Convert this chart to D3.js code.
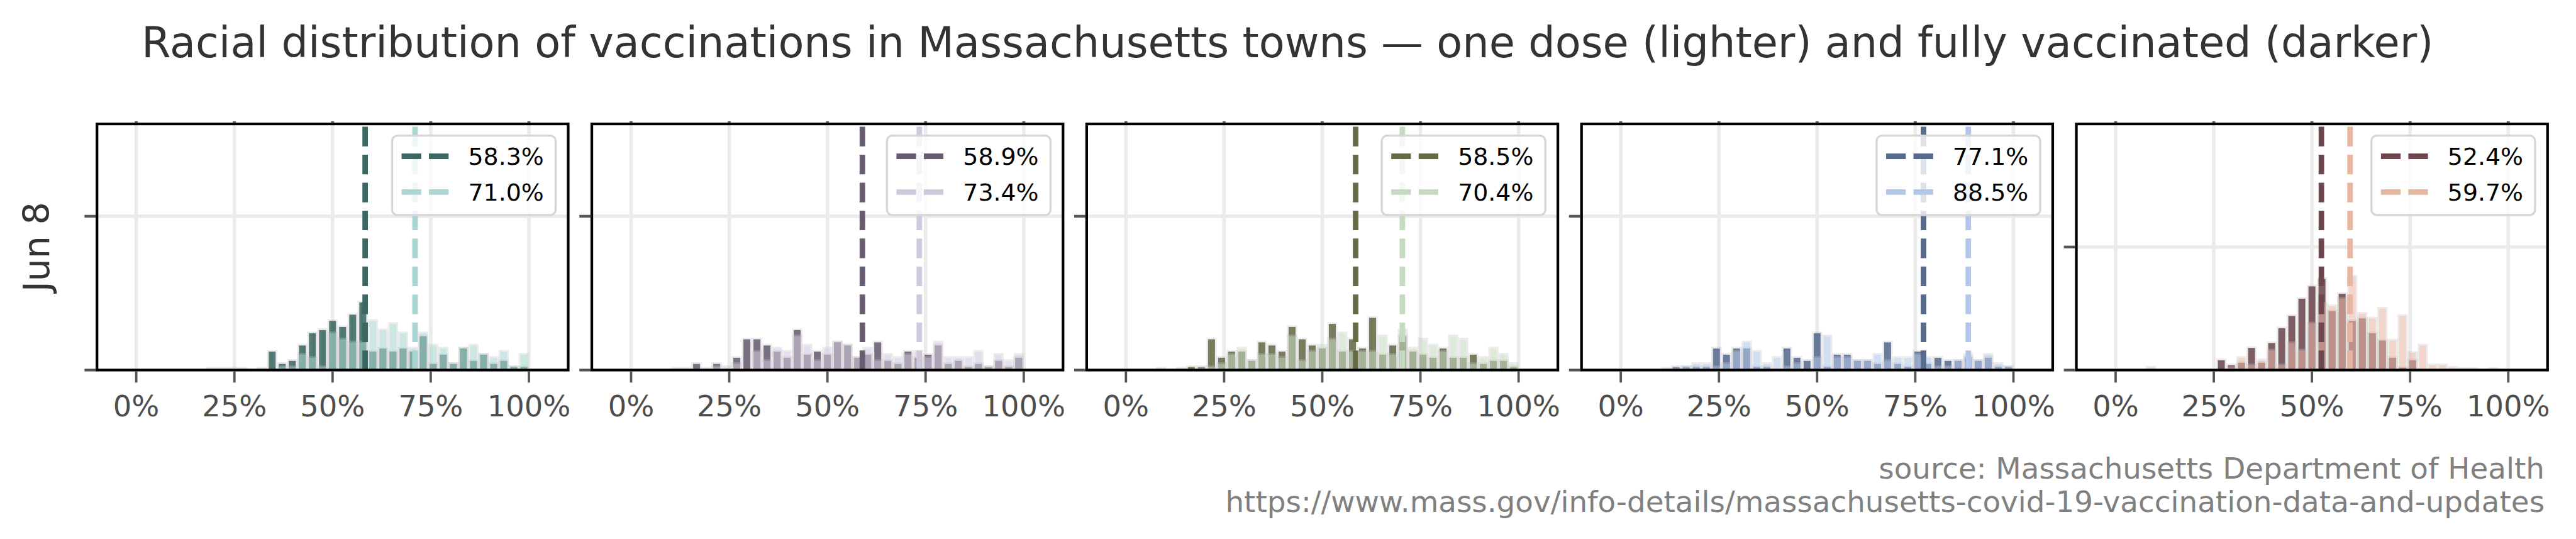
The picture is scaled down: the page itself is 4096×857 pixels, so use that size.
<!DOCTYPE html>
<html><head><meta charset="utf-8">
<script src="https://cdn.jsdelivr.net/npm/d3@7"></script>
<style>html,body{margin:0;padding:0;background:#fff;overflow:hidden} svg{display:block;font-family:"DejaVu Sans",sans-serif}</style>
</head><body><svg id="chart" width="4096" height="857"></svg>
<script>
// ---------------- data ----------------
const binCount = 39; // histogram bins over 0..100%
const xTickValues = [0, 0.25, 0.5, 0.75, 1];
const xTickLabels = ["0%", "25%", "50%", "75%", "100%"];
const rowLabel = "Jun 8";
const fullyRates = [58.3, 58.9, 58.5, 77.1, 52.4];
const oneDoseRates = [71.0, 73.4, 70.4, 88.5, 59.7];
const yMaxes = [80, 80, 80, 80, 100];
const yTickValues = [0, 50];

const fullyP1 = [0,0,0,0,0,0,0,0,0,0,0,0,0,6,2,3,8,12,13,16,14,18,22,6,7,6,7,6,11,2,5,2,7,3,5,2,3,1,1];
const oneDoseP1 = [0,0,0,0,0,0,0,0.5,0.5,0.5,0.5,0,0.5,0,1,1,5,4,1,12,10,9,9,16,13,15,12,7,12,8,7,2,7,8,5,4,6,1,5];
const fullyP2 = [0,0,0,0,0,0,2,0,2,0,4,10,10,8,6,4,13,5,6,5,9,8,4,5,9,3,2,6,4,5,8,2,3,1,2,1,3,1,4];
const oneDoseP2 = [0,0,0,0,0.5,0.5,0,0.5,1,1,2,0,6,3,7,6,11,8,3,7,9,8,4,7,3,5,4,5,6,4,9,4,4,4,6,1,5,3,5];
const fullyP3 = [0,0,0,0,0,0,1,1,10,4,6,6,3,9,8,6,14,10,8,7,15,6,10,7,17,5,8,11,6,5,4,7,4,4,5,2,3,3,1];
const oneDoseP3 = [0,0,0,0.5,0,0.5,0,0.5,1,2,5,7,3,5,5,4,11,3,6,8,10,12,6,6,6,11,5,13,7,10,8,6,11,10,2,4,7,5,2];
const fullyP4 = [0,0,0,0,0,1,1,1,1,7,5,7,7,1,1,0,7,4,3,12,1,5,5,3,3,2,9,2,1,6,2,4,3,3,4,3,4,1,1];
const oneDoseP4 = [0,0,0,0,0.5,0.5,1,2,2,1,2,6,9,6,2,4,1,2,0,4,11,4,4,3,3,5,3,4,4,5,4,1,1,3,5,3,5,2,1];
const fullyP5 = [0,0,0,0,0,0,0,0,0,0,4,2,3,9,3,11,17,22,29,34,37,24,31,20,21,15,12,5,1,4,0,0,0,0,0,0,0,0,0];
const oneDoseP5 = [0,0,0,1,0,0,0,0,0,0,0,1,5,2,4,8,2,11,8,19,27,26,29,38,23,21,25,12,22,7,10,2,2,1,0.5,0.5,0,0.5,0];

const titleText = "Racial distribution of vaccinations in Massachusetts towns \u2014 one dose (lighter) and fully vaccinated (darker)";
const sourceLines = ["source: Massachusetts Department of Health", "https://www.mass.gov/info-details/massachusetts-covid-19-vaccination-data-and-updates"];

// ---------------- styles ----------------
const darkColors = ["#3b6662", "#675c70", "#646b45", "#566a8c", "#6d474e"];
const lightColors = ["#a9d6d3", "#d0c8de", "#c5dbc0", "#b1c6e8", "#e7b6a3"];

const S = 0.946;
const svg = d3.select("#chart");
const root = svg.append("g").attr("transform", `scale(${S})`);

const panelLeft0 = 163, panelPitch = 831.75, panelW = 792;
const panelTop = 208.3, panelBottom = 622;
const edges = d3.range(binCount + 1).map(i => i / binCount);

const fullySeries = [fullyP1, fullyP2, fullyP3, fullyP4, fullyP5];
const oneDoseSeries = [oneDoseP1, oneDoseP2, oneDoseP3, oneDoseP4, oneDoseP5];

// title
root.append("text").attr("x", 2164).attr("y", 96.7).attr("text-anchor", "middle")
  .attr("font-size", 70.8).attr("fill", "#333").text(titleText);

// row label
root.append("text").attr("transform", "translate(82,415) rotate(-90)").attr("text-anchor", "middle")
  .attr("font-size", 60).attr("fill", "#333").text(rowLabel);

// source
sourceLines.forEach((t, i) => {
  root.append("text").attr("x", 4277).attr("y", 804 + i * 56).attr("text-anchor", "end")
    .attr("font-size", 49.5).attr("fill", "#808080").text(t);
});

const defs = root.append("defs");

fullySeries.forEach((fully, i) => {
  const oneDose = oneDoseSeries[i];
  const x0 = panelLeft0 + i * panelPitch;
  const x = d3.scaleLinear().domain([-0.1, 1.1]).range([x0, x0 + panelW]);
  const y = d3.scaleLinear().domain([0, yMaxes[i]]).range([panelBottom, panelTop]);
  const g = root.append("g");

  defs.append("clipPath").attr("id", "clip" + i).append("rect")
    .attr("x", x0).attr("y", panelTop).attr("width", panelW).attr("height", panelBottom - panelTop);
  const inner = g.append("g").attr("clip-path", `url(#clip${i})`);

  // grid
  inner.selectAll("line.vg").data(xTickValues).join("line")
    .attr("x1", d => x(d)).attr("x2", d => x(d)).attr("y1", panelTop).attr("y2", panelBottom)
    .attr("stroke", "#ebebeb").attr("stroke-width", 6);
  inner.selectAll("line.hg").data(yTickValues).join("line")
    .attr("x1", x0).attr("x2", x0 + panelW).attr("y1", d => y(d)).attr("y2", d => y(d))
    .attr("stroke", "#ebebeb").attr("stroke-width", 6);

  const binPx = x(edges[1]) - x(edges[0]);
  const barW = binPx * 0.69;
  const h = 2.8;
  function drawHist(values, color, opacity) {
    const bins = values.map((v, k) => ({ k, v })).filter(d => d.v > 0);
    const hg = inner.append("g");
    const left = d => x(edges[d.k]) + (binPx - barW) / 2;
    hg.selectAll("rect.halo").data(bins).join("rect")
      .attr("x", d => left(d) - h / 2).attr("y", d => y(d.v) - h / 2)
      .attr("width", barW + h).attr("height", d => panelBottom - y(d.v) + h + 4)
      .attr("fill", "none").attr("stroke", "#c4c4c4").attr("stroke-opacity", 0.33).attr("stroke-width", h);
    hg.selectAll("rect.bar").data(bins).join("rect")
      .attr("x", left).attr("y", d => y(d.v))
      .attr("width", barW).attr("height", d => panelBottom - y(d.v))
      .attr("fill", color).attr("fill-opacity", opacity);
  }
  drawHist(fully, darkColors[i], 0.88);
  drawHist(oneDose, lightColors[i], 0.58);

  // rate lines
  const rates = [{ r: fullyRates[i], c: darkColors[i] }, { r: oneDoseRates[i], c: lightColors[i] }];
  inner.selectAll("line.rate").data(rates).join("line")
    .attr("x1", d => x(d.r / 100)).attr("x2", d => x(d.r / 100))
    .attr("y1", panelBottom).attr("y2", panelTop)
    .attr("stroke", d => d.c).attr("stroke-width", 9.3).attr("stroke-dasharray", "33 14");

  // legend
  const lw = 275, lh = 133.5;
  const lg = g.append("g").attr("transform", `translate(${x0 + panelW - 21 - lw},${panelTop + 19.7})`);
  lg.append("rect").attr("width", lw).attr("height", lh).attr("rx", 9)
    .attr("fill", "#fff").attr("fill-opacity", 0.8).attr("stroke", "#d6d6d6").attr("stroke-width", 3.5);
  const items = [{ t: fullyRates[i].toFixed(1) + "%", c: darkColors[i] }, { t: oneDoseRates[i].toFixed(1) + "%", c: lightColors[i] }];
  items.forEach((it, j) => {
    const cy = 34.7 + j * 60;
    lg.append("line").attr("x1", 16).attr("x2", 95).attr("y1", cy).attr("y2", cy)
      .attr("stroke", it.c).attr("stroke-width", 9.3).attr("stroke-dasharray", "33 13");
    lg.append("text").attr("x", 128).attr("y", cy + 14.6).attr("font-size", 40).attr("fill", "#000").text(it.t);
  });

  // frame
  g.append("rect").attr("x", x0).attr("y", panelTop).attr("width", panelW).attr("height", panelBottom - panelTop)
    .attr("fill", "none").attr("stroke", "#000").attr("stroke-width", 4.5);

  // x ticks
  const xa = g.append("g");
  xa.selectAll("line.xt").data(xTickValues).join("line")
    .attr("x1", d => x(d)).attr("x2", d => x(d)).attr("y1", panelBottom + 2).attr("y2", panelBottom + 21)
    .attr("stroke", "#555").attr("stroke-width", 4);
  xa.selectAll("line.xtt").data(xTickValues).join("line")
    .attr("x1", d => x(d)).attr("x2", d => x(d)).attr("y1", panelTop - 2).attr("y2", panelTop - 4.5)
    .attr("stroke", "#555").attr("stroke-width", 5);
  xa.selectAll("text").data(xTickValues).join("text")
    .attr("x", d => x(d)).attr("y", 700).attr("text-anchor", "middle")
    .attr("font-size", 49).attr("fill", "#4d4d4d").text((d, k) => xTickLabels[k]);
  // y ticks
  g.selectAll("line.yt").data(yTickValues).join("line")
    .attr("x1", x0 - 2).attr("x2", x0 - 21).attr("y1", d => y(d)).attr("y2", d => y(d))
    .attr("stroke", "#555").attr("stroke-width", 4.5);
});
</script></body></html>
